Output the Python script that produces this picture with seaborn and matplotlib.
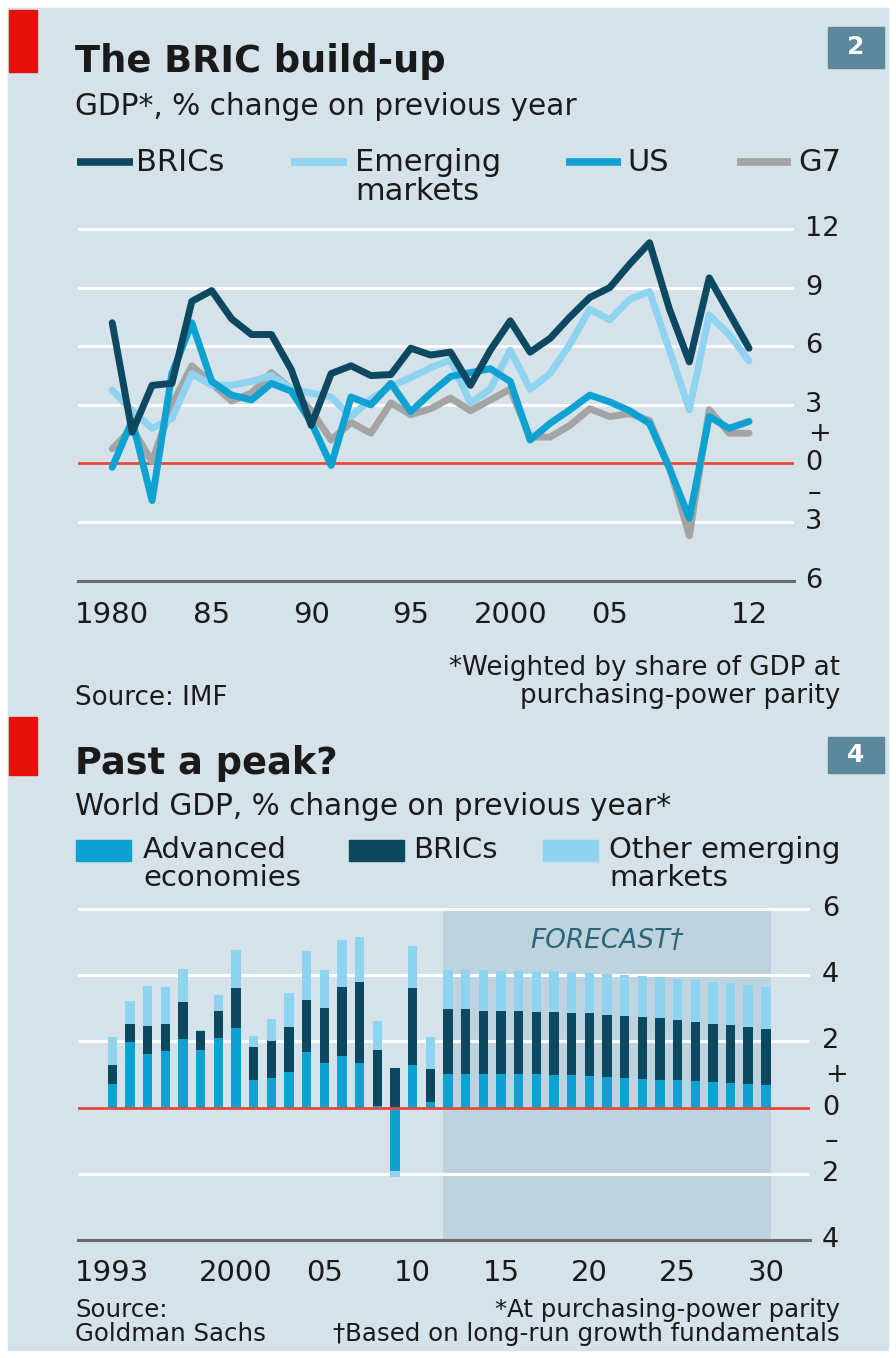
import numpy as np
import pandas as pd
import matplotlib.pyplot as plt
import seaborn as sns
from matplotlib.patches import Rectangle
from matplotlib.lines import Line2D

# --- chart 2: GDP, % change on previous year
years = list(range(1980, 2013))
brics = [7.2, 1.6, 4.0, 4.1, 8.3, 8.85, 7.4, 6.6, 6.6, 4.8, 1.95, 4.6, 5.0, 4.5, 4.55, 5.9,
         5.55, 5.7, 4.0, 5.8, 7.3, 5.7, 6.4, 7.5, 8.5, 9.0, 10.2, 11.3, 7.9, 5.2, 9.5, 7.7, 5.9]
emerging = [3.75, 2.7, 1.8, 2.3, 4.6, 4.0, 4.0, 4.2, 4.5, 3.8, 3.6, 3.4, 2.4, 3.3, 3.95, 4.4,
            4.9, 5.3, 3.1, 3.8, 5.8, 3.8, 4.6, 6.1, 7.9, 7.35, 8.4, 8.8, 5.8, 2.75, 7.6, 6.6, 5.25]
us = [-0.2, 2.2, -1.9, 4.6, 7.2, 4.2, 3.5, 3.25, 4.1, 3.7, 2.1, -0.1, 3.4, 3.0, 4.1, 2.65,
      3.6, 4.45, 4.65, 4.85, 4.2, 1.2, 2.05, 2.75, 3.5, 3.15, 2.7, 2.05, -0.25, -2.8, 2.4, 1.8, 2.15]
g7 = [0.75, 1.8, 0.1, 3.0, 5.0, 4.1, 3.2, 3.6, 4.65, 3.8, 2.7, 1.2, 2.1, 1.55, 3.1, 2.5,
      2.8, 3.35, 2.7, 3.25, 3.8, 1.35, 1.35, 1.95, 2.8, 2.4, 2.55, 2.2, -0.2, -3.7, 2.75, 1.55, 1.55]
top_ticks = [1980, 1985, 1990, 1995, 2000, 2005, 2012]
top_ticklabels = ['1980', '85', '90', '95', '2000', '05', '12']
top_major = [1980, 1985, 1990, 1995, 2000, 2005, 2010]
top_yvals = [12, 9, 6, 3, 1.5, 0, -1.5, -3, -6]
top_ylabels = ['12', '9', '6', '3', '+', '0', '–', '3', '6']

# --- chart 4: World GDP, % change on previous year (contributions)
bar_years = list(range(1993, 2031))
advanced = [0.72, 1.97, 1.62, 1.70, 2.07, 1.75, 2.10, 2.42, 0.84, 0.89, 1.09, 1.68, 1.35, 1.57,
            1.34, 0.05, -1.9, 1.29, 0.16, 1.02, 1.02, 1.02, 1.02, 1.02, 1.01, 1.00, 0.98, 0.96,
            0.93, 0.90, 0.87, 0.84, 0.82, 0.79, 0.77, 0.75, 0.72, 0.69]
bric_part = [0.57, 0.56, 0.84, 0.83, 1.11, 0.57, 0.83, 1.18, 0.98, 1.11, 1.36, 1.58, 1.66, 2.08,
             2.45, 1.70, 1.2, 2.33, 1.0, 1.96, 1.95, 1.91, 1.91, 1.89, 1.89, 1.88, 1.88, 1.89,
             1.88, 1.88, 1.87, 1.87, 1.84, 1.81, 1.77, 1.74, 1.72, 1.70]
other_part = [0.83, 0.70, 1.21, 1.11, 1.02, 0.03, 0.48, 1.15, 0.35, 0.68, 1.01, 1.47, 1.16, 1.41,
              1.36, 0.88, -0.2, 1.26, 0.96, 1.19, 1.18, 1.22, 1.21, 1.23, 1.23, 1.24, 1.25, 1.23,
              1.24, 1.24, 1.24, 1.24, 1.24, 1.26, 1.27, 1.28, 1.27, 1.26]
forecast_start, forecast_end = 2012, 2030
bottom_ticks = [1993, 2000, 2005, 2010, 2015, 2020, 2025, 2030]
bottom_ticklabels = ['1993', '2000', '05', '10', '15', '20', '25', '30']
bottom_major = [1995, 2000, 2005, 2010, 2015, 2020, 2025, 2030]
bottom_yvals = [6, 4, 2, 1, 0, -1, -2, -4]
bottom_ylabels = ['6', '4', '2', '+', '0', '–', '2', '4']

BG = '#d5e2ea'
SHADE = '#bfd3de'
DARK = '#0c4961'
LIGHT = '#8ed3ef'
MID = '#0ea2d2'
GREY = '#a4a4a4'
RED = '#e3120b'
ZERO = '#e4493d'
AXIS = '#6a6a6a'
TXT = '#1a1a1a'
BOX = '#5b899b'

sns.set_theme(style='white')
plt.rcParams['font.family'] = ['DejaVu Sans']
plt.rcParams['text.color'] = TXT

W, H = 896, 1358
fig = plt.figure(figsize=(W / 100, H / 100), dpi=100, facecolor='white')


def fx(x):
    return x / W


def fy(y):
    return 1 - y / H


def rect(x0, y0, x1, y1, color, z=-10):
    fig.patches.append(Rectangle((fx(x0), fy(y1)), (x1 - x0) / W, (y1 - y0) / H,
                                 transform=fig.transFigure, color=color, zorder=z))


rect(8, 8, 888, 1350, BG, z=-20)


def style_axis(ax, labels_at, labels, major, first, last, ylab_x, yvals, ylabels):
    ax.set_facecolor('none')
    for s in ['top', 'left', 'right']:
        ax.spines[s].set_visible(False)
    ax.spines['bottom'].set_color(AXIS)
    ax.spines['bottom'].set_linewidth(2.2)
    ax.spines['bottom'].set_zorder(5)
    ax.set_yticks([])
    # tall ticks every five years, short ticks every year
    ax.set_xticks(major)
    ax.set_xticklabels([])
    minor = [y for y in range(first, last + 1) if y not in major]
    ax.set_xticks(minor, minor=True)
    ax.tick_params(axis='x', which='major', direction='in', length=10, width=1.8, color=AXIS)
    ax.tick_params(axis='x', which='minor', direction='in', length=6, width=1.8, color=AXIS)
    ax.set_xlabel('')
    ax.set_ylabel('')
    xt = ax.get_xaxis_transform()
    for v, t in zip(labels_at, labels):
        ax.text(v, -0.095, t, transform=xt, ha='center', va='center', fontsize=21, color=TXT)
    tr = ax.get_yaxis_transform()
    for v, t in zip(yvals, ylabels):
        off = 0.004 if t in ['+', '–'] else 0
        ax.text(ylab_x + off, v, t, transform=tr, ha='left', va='center',
                fontsize=19.5, color=TXT)


# ---------------- top chart ----------------
rect(9, 10, 37, 72, RED)
rect(828, 27, 884, 68, BOX)
fig.text(fx(856), fy(47.5), '2', ha='center', va='center', color='white',
         fontsize=18, fontweight='bold')
fig.text(fx(75), fy(72), 'The BRIC build-up', fontsize=26.5, fontweight='bold', va='baseline')
fig.text(fx(75), fy(115), 'GDP*, % change on previous year', fontsize=21.3, va='baseline')

leg_top = [('BRICs', DARK, 77, 133, 136), ('Emerging\nmarkets', LIGHT, 291, 347, 355),
           ('US', MID, 566, 621, 627), ('G7', GREY, 737, 791, 798)]
for lab, col, x0, x1, xt in leg_top:
    fig.add_artist(Line2D([fx(x0), fx(x1)], [fy(162), fy(162)], color=col, lw=5.5,
                          solid_capstyle='butt', transform=fig.transFigure))
    fig.text(fx(xt), fy(148), lab, fontsize=22, va='top', linespacing=1.0)

ax1 = fig.add_axes([fx(78), fy(580.7), (794 - 78) / W, (580.7 - 217.3) / H])
ax1.set_xlim(1978.28, 2014.26)
ax1.set_ylim(-6, 12.6)
for v in [12, 9, 6, 3, -3]:
    ax1.axhline(v, color='white', lw=2.2, zorder=1)
ax1.axhline(0, color=ZERO, lw=2, zorder=1.5)

df = pd.DataFrame({'year': years, 'G7': g7, 'Emerging markets': emerging,
                   'US': us, 'BRICs': brics})
long = df.melt(id_vars='year', var_name='series', value_name='gdp')
sns.lineplot(data=long, x='year', y='gdp', hue='series',
             hue_order=['G7', 'Emerging markets', 'US', 'BRICs'],
             palette=[GREY, LIGHT, MID, DARK], linewidth=5, legend=False, ax=ax1, zorder=3)
style_axis(ax1, top_ticks, top_ticklabels, top_major, 1980, 2012, 1.0154,
           top_yvals, top_ylabels)

fig.text(fx(75), fy(705), 'Source: IMF', fontsize=18.8, va='baseline')
fig.text(fx(840), fy(675), '*Weighted by share of GDP at', fontsize=18.8, ha='right',
         va='baseline')
fig.text(fx(840), fy(703), 'purchasing-power parity', fontsize=18.8, ha='right',
         va='baseline')

# ---------------- bottom chart ----------------
rect(9, 717, 37, 775, RED)
rect(828, 737, 884, 773, BOX)
fig.text(fx(856), fy(755), '4', ha='center', va='center', color='white',
         fontsize=18, fontweight='bold')
fig.text(fx(75), fy(774), 'Past a peak?', fontsize=26.5, fontweight='bold', va='baseline')
fig.text(fx(75), fy(815), 'World GDP, % change on previous year*', fontsize=21.3,
         va='baseline')

leg_bot = [('Advanced\neconomies', MID, 76, 131, 143), ('BRICs', DARK, 349, 404, 413),
           ('Other emerging\nmarkets', LIGHT, 543, 598, 609)]
for lab, col, x0, x1, xt in leg_bot:
    rect(x0, 840, x1, 861, col)
    fig.text(fx(xt), fy(836), lab, fontsize=21, va='top', linespacing=1.0)

ax2 = fig.add_axes([fx(78), fy(1240), (810 - 78) / W, (1240 - 892.5) / H])
ax2.set_xlim(1991.06, 2032.5)
ax2.set_ylim(-4, 6.5)
bw = 0.53
ax2.axvspan(forecast_start - bw / 2, forecast_end + bw / 2, ymin=0, ymax=(5.94 + 4) / 10.5,
            color=SHADE, lw=0, zorder=0.5)
for v in [6, 4, 2, -2]:
    ax2.axhline(v, color='white', lw=2.2, zorder=1)

adv = np.array(advanced)
bri = np.array(bric_part)
oth = np.array(other_part)
pos = np.zeros(len(bar_years))
neg = np.zeros(len(bar_years))
for vals, col in [(adv, MID), (bri, DARK), (oth, LIGHT)]:
    base = np.where(vals >= 0, pos, neg)
    ax2.bar(bar_years, vals, bottom=base, width=bw, color=col, lw=0, zorder=2)
    pos = pos + np.where(vals >= 0, vals, 0)
    neg = neg + np.where(vals < 0, vals, 0)
ax2.axhline(0, color=ZERO, lw=2, zorder=3)
ax2.text((forecast_start + forecast_end) / 2, 5.04, 'FORECAST†', ha='center', va='center',
         style='italic', color='#2b6579', fontsize=19)
style_axis(ax2, bottom_ticks, bottom_ticklabels, bottom_major, 1993, 2030, 1.0164,
           bottom_yvals, bottom_ylabels)

fig.text(fx(75), fy(1317), 'Source:', fontsize=17.6, va='baseline')
fig.text(fx(75), fy(1341), 'Goldman Sachs', fontsize=17.6, va='baseline')
fig.text(fx(840), fy(1317), '*At purchasing-power parity', fontsize=17.6, ha='right',
         va='baseline')
fig.text(fx(840), fy(1341), '†Based on long-run growth fundamentals', fontsize=17.6,
         ha='right', va='baseline')

fig.savefig('out.png', dpi=100, facecolor='white')
